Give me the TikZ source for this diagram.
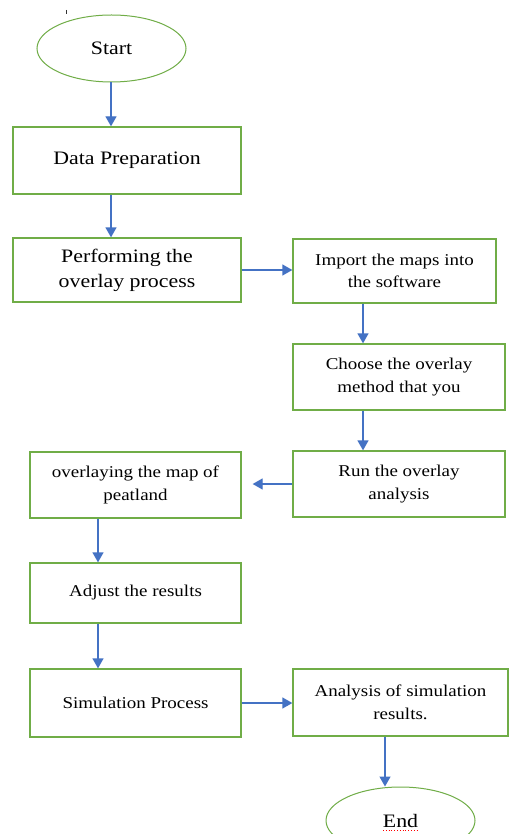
\documentclass[tikz,border=0pt]{standalone}
\usepackage{fontspec}
\setmainfont[FakeStretch=1.15]{Liberation Serif}
\usetikzlibrary{arrows.meta,shapes.geometric}
\definecolor{bgreen}{RGB}{112,173,71}
\definecolor{ablue}{RGB}{68,114,196}
\begin{document}
\begin{tikzpicture}[x=1pt,y=-1pt,
 box/.style={draw=bgreen,line width=1.3pt,rectangle,inner sep=0pt,align=center},
 oval/.style={draw=bgreen,line width=1pt,ellipse,inner sep=0pt,minimum width=149pt,minimum height=67pt},
 big/.style={font=\fontsize{19}{25}\selectfont},
 small/.style={font=\fontsize{16.5}{22.5}\selectfont},
 arr/.style={draw=ablue,line width=1.3pt,-{Triangle[length=10pt,width=11pt]}}]
\useasboundingbox (0,0) rectangle (509,834);
\clip (0,0) rectangle (509,834);
\fill[white] (0,0) rectangle (509,834);
% stray tick
\draw[black!80,line width=0.8pt] (66.5,10) -- (66.5,14.5);
% nodes
\node[oval,big] (start) at (111.5,48.5) {Start};
\node[box,big,minimum width=228pt,minimum height=67pt] (data) at (127,160.5) {Data Preparation};
\node[box,big,minimum width=228pt,minimum height=64pt] (perf) at (127,270) {Performing the\\overlay process};
\node[box,small,minimum width=203pt,minimum height=64pt] (import) at (394.5,271) {Import the maps into\\the software};
\node[box,small,minimum width=212pt,minimum height=66pt] (choose) at (399,377) {Choose the overlay\\method that you};
\node[box,small,minimum width=212pt,minimum height=66pt] (run) at (399,484) {Run the overlay\\analysis};
\node[box,small,minimum width=211pt,minimum height=66pt] (overlay) at (135.5,485) {overlaying the map of\\peatland};
\node[box,small,minimum width=211pt,minimum height=60pt] (adjust) at (135.5,593) {Adjust the results};
\node[box,small,minimum width=211pt,minimum height=68pt] (sim) at (135.5,703) {Simulation Process};
\node[box,small,minimum width=215pt,minimum height=67pt] (analysis) at (400.5,702.5) {Analysis of simulation\\results.};
\node[oval,big] (end) at (400.5,820.5) {End};
\draw[red,dotted,line width=0.8pt] (383,830.5) -- (417,830.5);
% helper coordinates
\coordinate (cs) at (111,0);
\coordinate (cr) at (363,0);
\coordinate (cl) at (98,0);
\coordinate (ce) at (385,0);
% connectors
\draw[arr] (start.south -| cs) -- (data.north -| cs);
\draw[arr] (data.south -| cs) -- (perf.north -| cs);
\draw[arr] (perf.east) -- (perf.east -| import.west);
\draw[arr] (import.south -| cr) -- (choose.north -| cr);
\draw[arr] (choose.south -| cr) -- (run.north -| cr);
\draw[arr,shorten >=11pt] (run.west) -- (run.west -| overlay.east);
\draw[arr] (overlay.south -| cl) -- (adjust.north -| cl);
\draw[arr] (adjust.south -| cl) -- (sim.north -| cl);
\draw[arr] (sim.east) -- (sim.east -| analysis.west);
\draw[arr] (analysis.south -| ce) -- (end.north -| ce);
\end{tikzpicture}
\end{document}
